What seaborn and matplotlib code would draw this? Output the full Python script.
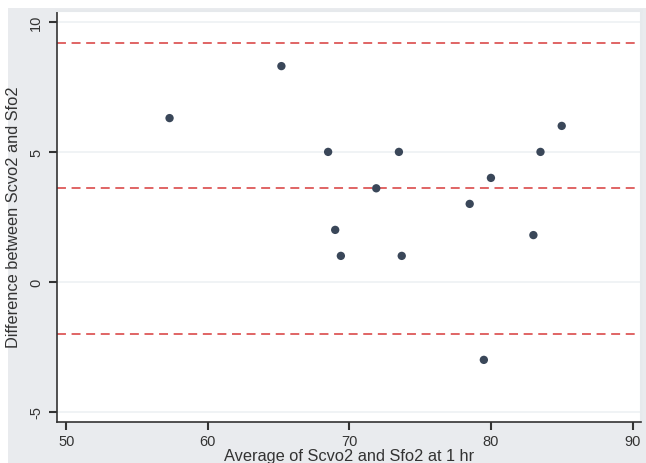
import seaborn as sns
import pandas as pd
import numpy as np
import matplotlib.pyplot as plt
from matplotlib.patches import Rectangle

# Bland-Altman: average vs difference
avg_vals = [57.3, 65.2, 68.5, 69.0, 69.4, 71.9, 73.5, 73.7, 78.5, 79.5, 80.0, 83.0, 83.5, 85.0]
diff_vals = [6.3, 8.3, 5.0, 2.0, 1.0, 3.6, 5.0, 1.0, 3.0, -3.0, 4.0, 1.8, 5.0, 6.0]
ref_lines = [9.2, 3.6, -2.0]   # upper limit, mean, lower limit
x_ticks = [50, 60, 70, 80, 90]
y_ticks = [-5, 0, 5, 10]

data = pd.DataFrame({"avg": avg_vals, "diff": diff_vals})

sns.set_theme(style="white")
plt.rcParams["font.family"] = ["Liberation Sans", "DejaVu Sans"]

fig = plt.figure(figsize=(6.46, 4.64), dpi=100, facecolor="white")
bg = Rectangle((8 / 646, 0), 1, 1 - 9 / 464, transform=fig.transFigure,
               facecolor="#e9ebee", edgecolor="none", zorder=-10)
fig.patches.append(bg)
ax = fig.add_axes([57 / 646, 1 - 423 / 464, (641 - 57) / 646, (423 - 12) / 464])
ax.set_facecolor("white")

for yv in y_ticks:
    ax.axhline(yv, color="#eef1f3", lw=1.2, zorder=1)
for yv in ref_lines:
    ax.axhline(yv, color="#e06464", lw=1.4, ls=(0, (4.6, 2.9)), zorder=2)

sns.scatterplot(data=data, x="avg", y="diff", ax=ax, color="#3a4759", s=36,
                edgecolor="none", zorder=3)

ax.set_xlim(49.35, 90.6)
ax.set_ylim(-5.39, 10.42)
ax.set_xticks(x_ticks)
ax.set_yticks(y_ticks)
ax.set_yticklabels([str(v) for v in y_ticks], rotation=90, va="center")
ax.tick_params(axis="both", direction="out", length=6, width=1.5, color="#333333",
               labelsize=10.5, labelcolor="#333333", left=True, bottom=True)
ax.tick_params(axis="x", pad=2.5)
ax.tick_params(axis="y", pad=4)

for side in ["left", "bottom"]:
    ax.spines[side].set_color("#333333")
    ax.spines[side].set_linewidth(1.2)
for side in ["top", "right"]:
    ax.spines[side].set_color("#e6e9ec")
    ax.spines[side].set_linewidth(1.5)

ax.set_xlabel("Average of Scvo2 and Sfo2 at 1 hr", fontsize=11.8, color="#333333", labelpad=0)
ax.set_ylabel("Difference between Scvo2 and Sfo2", fontsize=11.8, color="#333333", labelpad=6)

fig.savefig("out.png", dpi=100)
